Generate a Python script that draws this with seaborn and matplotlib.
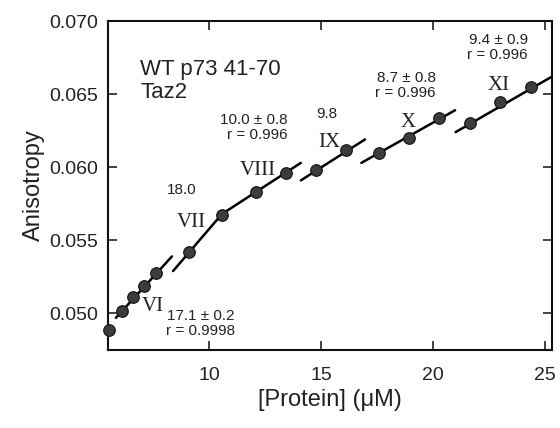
import pandas as pd
import matplotlib
matplotlib.use("Agg")
import matplotlib.pyplot as plt
import seaborn as sns

# measured points: [Protein] (uM) vs anisotropy
protein = [5.55, 6.13, 6.62, 7.11, 7.64, 9.11, 10.58, 12.09, 13.43,
           14.77, 16.12, 17.60, 18.92, 20.27, 21.65, 23.00, 24.37]
anisotropy = [0.0489, 0.0502, 0.0511, 0.0519, 0.0528, 0.0542, 0.05676, 0.05833, 0.05962,
              0.05983, 0.0612, 0.0610, 0.0620, 0.06338, 0.0630, 0.06447, 0.0655]

# fitted segments (start/end of each linear fit)
seg_names = ["VI", "VII", "VIII", "IX", "X", "XI"]
seg_x0 = [5.85, 8.40, 10.58, 14.10, 16.80, 21.00]
seg_x1 = [8.35, 10.58, 14.10, 16.96, 20.98, 25.30]
seg_y0 = [0.0497, 0.0529, 0.0568, 0.0591, 0.0603, 0.0624]
seg_y1 = [0.0539, 0.0568, 0.0603, 0.0619, 0.0639, 0.0662]

# roman numeral labels
roman_x = [7.51, 9.20, 12.19, 15.36, 18.88, 22.94]
roman_y = [0.05051, 0.05625, 0.05981, 0.06172, 0.06309, 0.06556]

# fit annotations (right edge, vertical center)
note_text = ["17.1 \u00b1 0.2\nr = 0.9998", "18.0", "10.0 \u00b1 0.8\nr = 0.996",
             "9.8", "8.7 \u00b1 0.8\nr = 0.996", "9.4 \u00b1 0.9\nr = 0.996"]
note_x = [11.16, 9.45, 13.53, 15.72, 20.13, 24.23]
note_y = [0.04931, 0.05844, 0.06272, 0.06364, 0.06556, 0.06819]

sns.set_style("ticks")
plt.rcParams["font.family"] = ["Liberation Sans", "DejaVu Sans"]

fig = plt.figure(figsize=(5.6, 4.28), dpi=100)
ax = fig.add_axes([0.1929, 0.1822, 0.7928, 0.7687])

segs = pd.DataFrame({
    "seg": seg_names * 2,
    "x": seg_x0 + seg_x1,
    "y": seg_y0 + seg_y1,
})
sns.lineplot(data=segs, x="x", y="y", units="seg", estimator=None,
             color="black", linewidth=1.8, ax=ax, legend=False)

pts = pd.DataFrame({"x": protein, "y": anisotropy})
sns.scatterplot(data=pts, x="x", y="y", s=70, color="#3c3c3c",
                edgecolor="#111111", linewidth=0.8, ax=ax, zorder=5, clip_on=False)

for name, rx, ry in zip(seg_names, roman_x, roman_y):
    ax.text(rx, ry, name, family=["Liberation Serif", "DejaVu Serif"], fontsize=15,
            ha="center", va="center", color="#222222")

for t, nx, ny in zip(note_text, note_x, note_y):
    ax.text(nx, ny, t, fontsize=11, ha="right", va="center",
            multialignment="right", linespacing=1.1, color="#222222")

ax.text(6.93, 0.0659, "WT p73 41-70\nTaz2", fontsize=16, ha="left", va="center",
        linespacing=1.1, color="#222222")

ax.set_xlim(5.5, 25.3)
ax.set_ylim(0.0475, 0.070)
ax.set_xticks([10, 15, 20, 25])
ax.set_yticks([0.050, 0.055, 0.060, 0.065, 0.070])
ax.set_yticklabels(["0.050", "0.055", "0.060", "0.065", "0.070"])
ax.tick_params(direction="in", length=6.5, width=1.2, labelsize=14,
               top=True, right=True, colors="#222222")
ax.tick_params(axis="x", pad=12)
ax.tick_params(axis="y", pad=7)
for sp in ax.spines.values():
    sp.set_linewidth(1.5)
    sp.set_color("#111111")

ax.set_xlabel("[Protein] (\u03bcM)", fontsize=17, color="#222222", labelpad=4)
ax.set_ylabel("Anisotropy", fontsize=17, color="#222222", labelpad=3)

fig.savefig("out.png", dpi=100)
